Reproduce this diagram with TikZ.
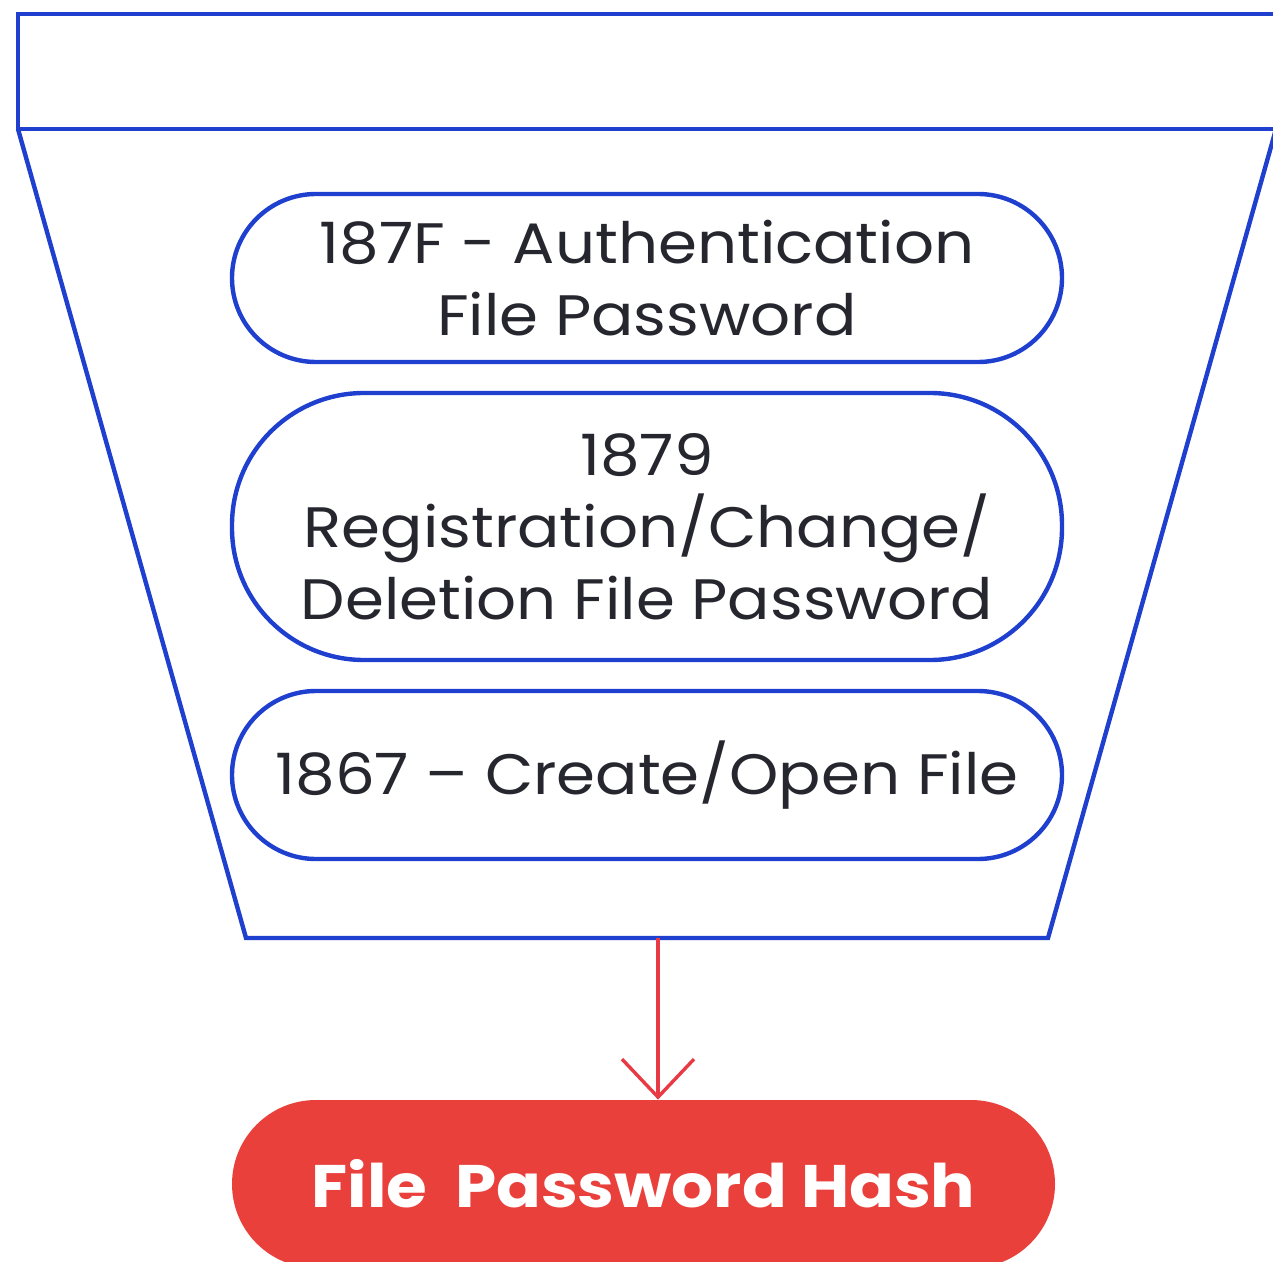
\documentclass[tikz,border=0pt]{standalone}
\usepackage{fontspec}
\setmainfont{Poppins}[FakeStretch=1.1]
\usetikzlibrary{arrows.meta}
\definecolor{fblue}{HTML}{1F3FCF}
\definecolor{fred}{HTML}{E9403C}
\definecolor{ared}{HTML}{E83A44}
\definecolor{ftext}{HTML}{26262E}
\tikzset{
  pill/.style={draw=fblue, line width=2.2pt, rectangle, minimum width=415pt, inner sep=0pt,
    text=ftext, align=center, font=\fontsize{28.5}{36}\selectfont},
  hashpill/.style={fill=fred, rectangle, minimum width=411.5pt, minimum height=84pt, rounded corners=42pt,
    inner sep=0pt, text=white, font=\fontsize{30}{36}\selectfont\bfseries},
  frame/.style={draw=fblue, line width=2.2pt},
  flow/.style={draw=ared, line width=1.7pt, -{Straight Barb[length=19pt,width=36pt,line width=1.7pt]}}
}
\begin{document}
\begin{tikzpicture}[x=0.5pt,y=-0.5pt]
\useasboundingbox (0,0) rectangle (1273,1262);
\clip (0,0) rectangle (1273,1262);
\node[frame, rectangle, minimum width=629pt, minimum height=57.5pt, inner sep=0pt] (top) at (647,71.5) {};
\draw[frame, line join=miter] (18,129) -- (246,938) -- (1048,938) -- (1276,129);
\coordinate (fb) at (658,938);
\node[pill, minimum height=84pt, rounded corners=42pt] (p1) at (647,278) {187F - Authentication\\File Password};
\node[pill, minimum height=133.5pt, rounded corners=66pt] (p2) at (647,526.5) {1879\\Registration/Change/\\Deletion File Password};
\node[pill, minimum height=84pt, rounded corners=42pt] (p3) at (647,775) {1867 – Create/Open File};
\node[hashpill] (hash) at (643.5,1184) {File\ \ Password Hash};
\draw[flow] (fb) -- (fb |- hash.north);
\end{tikzpicture}
\end{document}
